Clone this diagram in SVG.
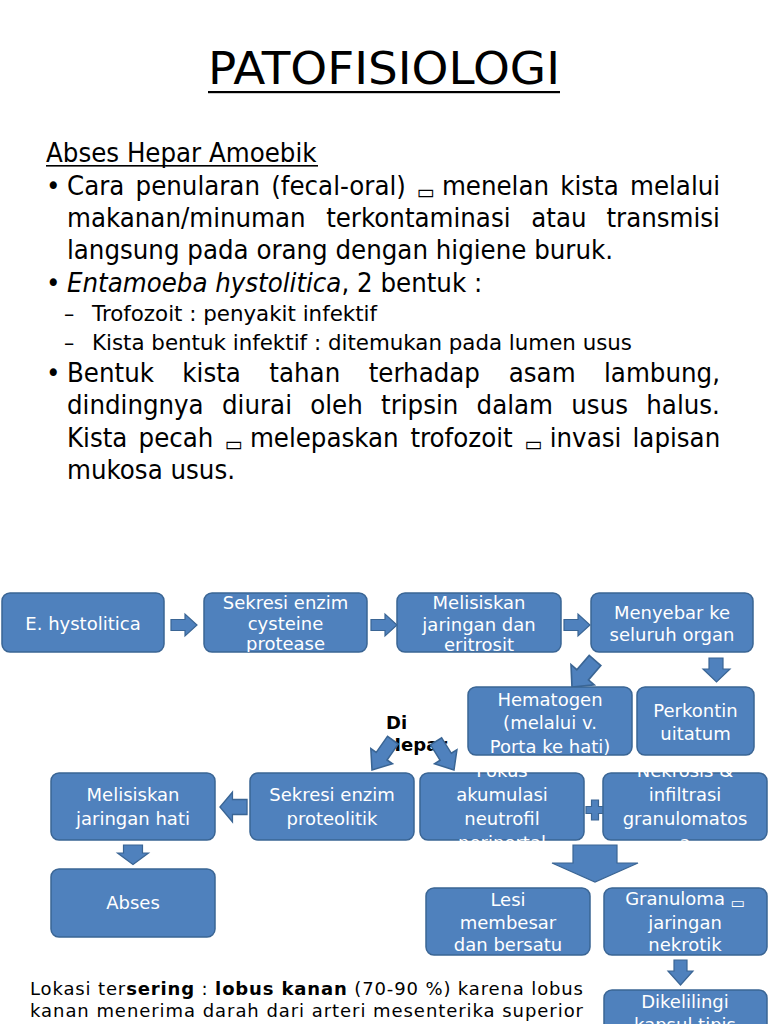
<svg xmlns="http://www.w3.org/2000/svg" xmlns:xlink="http://www.w3.org/1999/xlink" width="768" height="1024" viewBox="0 0 768 1024">
<style>
.body{font-family:"DejaVu Sans",sans-serif;font-size:27px;fill:#000}
.sub{font-family:"DejaVu Sans",sans-serif;font-size:20.5px;fill:#000}
.tofu{font-family:"DejaVu Sans",sans-serif;font-size:21px;fill:#000}
.btofu{font-family:"DejaVu Sans",sans-serif;font-size:15px}
.box{fill:#4F81BD;stroke:#3A6594;stroke-width:1.5}
.bt{font-family:"DejaVu Sans",sans-serif;font-size:18px;fill:#fff;text-anchor:middle}
.arr{fill:#4F81BD;stroke:#3A6594;stroke-width:1.2}
.lbl{font-family:"DejaVu Sans",sans-serif;font-size:18px;font-weight:bold;fill:#000}
.foot{font-family:"DejaVu Sans",sans-serif;font-size:18px;fill:#000}
</style>
<defs>
<path id="ar" d="M-26,-5.5 H-12 V-11 L0,0 L-12,11 V5.5 H-26 Z"/>
<clipPath id="cB"><rect x="204" y="590" width="163" height="62"/></clipPath>
<clipPath id="cF"><rect x="420" y="770" width="164" height="72"/></clipPath>
<clipPath id="cN"><rect x="603" y="770" width="165" height="75"/></clipPath>
<clipPath id="cC"><rect x="397" y="590" width="164" height="63"/></clipPath>
</defs>
<rect width="768" height="1024" fill="#fff"/>

<g id="title">
<text x="384" y="84" text-anchor="middle" font-family="DejaVu Sans, sans-serif" font-size="44" textLength="352" lengthAdjust="spacingAndGlyphs">PATOFISIOLOGI</text>
<rect x="208" y="91" width="352" height="2.2" fill="#000"/>
</g>

<g id="text">
<rect x="46" y="165" width="272" height="1.6" fill="#000"/>
<g transform="scale(0.91,1)">
<text class="body" x="50.55" y="162">Abses Hepar Amoebik</text>
<text class="body" x="50.55" y="195">•</text>
<text class="body" y="195"><tspan x="73.63">Cara</tspan><tspan x="149">penularan</tspan><tspan x="298.1">(fecal-oral)</tspan><tspan class="tofu" x="457.9" dy="4">▭</tspan><tspan x="485.6" dy="-4">menelan</tspan><tspan x="615.7">kista</tspan><tspan x="692.3">melalui</tspan></text>
<text class="body" y="227"><tspan x="73.63">makanan/minuman</tspan><tspan x="358.4">terkontaminasi</tspan><tspan x="583.8">atau</tspan><tspan x="666.4">transmisi</tspan></text>
<text class="body" x="73.63" y="259">langsung pada orang dengan higiene buruk.</text>
<text class="body" x="50.55" y="292">•</text>
<text class="body" x="73.63" y="292"><tspan font-style="italic">Entamoeba hystolitica</tspan>, 2 bentuk :</text>
<text class="body" x="50.55" y="382">•</text>
<text class="body" y="382"><tspan x="73.63">Bentuk</tspan><tspan x="200.4">kista</tspan><tspan x="296">tahan</tspan><tspan x="405.2">terhadap</tspan><tspan x="559.1">asam</tspan><tspan x="663.8">lambung,</tspan></text>
<text class="body" y="414"><tspan x="73.63">dindingnya</tspan><tspan x="244">diurai</tspan><tspan x="340.9">oleh</tspan><tspan x="418.7">tripsin</tspan><tspan x="523.7">dalam</tspan><tspan x="627.8">usus</tspan><tspan x="710.2">halus.</tspan></text>
<text class="body" y="447"><tspan x="73.63">Kista</tspan><tspan x="152.3">pecah</tspan><tspan class="tofu" x="246.9" dy="4">▭</tspan><tspan x="274.6" dy="-4">melepaskan</tspan><tspan x="451">trofozoit</tspan><tspan class="tofu" x="576.4" dy="4">▭</tspan><tspan x="604.1" dy="-4">invasi</tspan><tspan x="695.1">lapisan</tspan></text>
<text class="body" x="73.63" y="479">mukosa usus.</text>
</g>
<text class="sub" x="64" y="321" font-size="23">–</text>
<text class="sub" x="92" y="321" textLength="285" lengthAdjust="spacingAndGlyphs">Trofozoit : penyakit infektif</text>
<text class="sub" x="64" y="350" font-size="23">–</text>
<text class="sub" x="92" y="350" textLength="540" lengthAdjust="spacingAndGlyphs">Kista bentuk infektif : ditemukan pada lumen usus</text>
</g>

<g id="connectors">
<use href="#ar" class="arr" transform="translate(197,625)"/>
<use href="#ar" class="arr" transform="translate(397,625)"/>
<use href="#ar" class="arr" transform="translate(590,625)"/>
<use href="#ar" class="arr" transform="translate(572,687) rotate(131) scale(1.35,1.4)"/>
<path class="arr" d="M709,658 H723 V669 H730 L716.5,682 L703,669 H709 Z"/>
<use href="#ar" class="arr" transform="translate(220,807) rotate(180) scale(1.04,1.36)"/>
<path class="arr" d="M123.5,845 H142.5 V853 H148.5 L133,864.5 L117.5,853 H123.5 Z"/>
<path class="arr" d="M591.5,800 H598.5 V806.5 H604 V813.5 H598.5 V820 H591.5 V813.5 H586 V806.5 H591.5 Z"/>
<path class="arr" d="M573,845 H617 V863 H638 L595,882 L552,863 H573 Z"/>
<path class="arr" d="M674,960 H687 V971 H693 L680.5,985 L668,971 H674 Z"/>
</g>

<g id="label-di-hepar">
<text class="lbl" x="386" y="729">Di</text>
<text class="lbl" x="386" y="751">Hepar</text>
</g>
<g id="connectors-hepar">
<use href="#ar" class="arr" transform="translate(372,770) rotate(125) scale(1.4,1.2)"/>
<use href="#ar" class="arr" transform="translate(454,770) rotate(58) scale(1.3,1.2)"/>
</g>

<g id="n-ehisto"><rect class="box" x="2" y="593" width="162" height="59" rx="8"/><text class="bt" x="83" y="630">E. hystolitica</text></g>
<g id="n-sekresi-cys"><rect class="box" x="204" y="593" width="163" height="59" rx="8"/><g clip-path="url(#cB)"><text class="bt" x="285.5" y="609">Sekresi enzim</text><text class="bt" x="285.5" y="629.5">cysteine</text><text class="bt" x="285.5" y="650">protease</text></g></g>
<g id="n-melisiskan-eri"><rect class="box" x="397" y="593" width="164" height="59" rx="8"/><g clip-path="url(#cC)"><text class="bt" x="479" y="609">Melisiskan</text><text class="bt" x="479" y="631">jaringan dan</text><text class="bt" x="479" y="651">eritrosit</text></g></g>
<g id="n-menyebar"><rect class="box" x="591" y="593" width="162" height="59" rx="8"/><text class="bt" x="672" y="619">Menyebar ke</text><text class="bt" x="672" y="641">seluruh organ</text></g>
<g id="n-hematogen"><rect class="box" x="468" y="687" width="164" height="68" rx="8"/><text class="bt" x="550" y="706">Hematogen</text><text class="bt" x="550" y="729">(melalui v.</text><text class="bt" x="550" y="753">Porta ke hati)</text></g>
<g id="n-perkontin"><rect class="box" x="637" y="687" width="117" height="68" rx="8"/><text class="bt" x="695.5" y="717">Perkontin</text><text class="bt" x="695.5" y="740">uitatum</text></g>
<g id="n-melisiskan-hati"><rect class="box" x="51" y="773" width="164" height="67" rx="8"/><text class="bt" x="133" y="801">Melisiskan</text><text class="bt" x="133" y="825">jaringan hati</text></g>
<g id="n-sekresi-prot"><rect class="box" x="250" y="773" width="164" height="67" rx="8"/><text class="bt" x="332" y="801">Sekresi enzim</text><text class="bt" x="332" y="825">proteolitik</text></g>
<g id="n-fokus"><rect class="box" x="420" y="773" width="164" height="67" rx="8"/><g clip-path="url(#cF)"><text class="bt" x="502" y="777">Fokus</text><text class="bt" x="502" y="801">akumulasi</text><text class="bt" x="502" y="825">neutrofil</text><text class="bt" x="502" y="849">periportal</text></g></g>
<g id="n-nekrosis"><rect class="box" x="603" y="773" width="164" height="67" rx="8"/><g clip-path="url(#cN)"><text class="bt" x="685" y="777">Nekrosis &amp;</text><text class="bt" x="685" y="801">infiltrasi</text><text class="bt" x="685" y="825">granulomatos</text><text class="bt" x="685" y="849">a</text></g></g>
<g id="n-abses"><rect class="box" x="51" y="869" width="164" height="68" rx="8"/><text class="bt" x="133" y="909">Abses</text></g>
<g id="n-lesi"><rect class="box" x="426" y="888" width="164" height="67" rx="8"/><text class="bt" x="508" y="906">Lesi</text><text class="bt" x="508" y="929">membesar</text><text class="bt" x="508" y="951">dan bersatu</text></g>
<g id="n-granuloma"><rect class="box" x="604" y="888" width="163" height="67" rx="8"/><text class="bt" x="685" y="905">Granuloma <tspan class="btofu" dy="3">▭</tspan></text><text class="bt" x="685" y="929">jaringan</text><text class="bt" x="685" y="951">nekrotik</text></g>
<g id="n-dikelilingi"><rect class="box" x="604" y="990" width="163" height="50" rx="8"/><text class="bt" x="685" y="1008">Dikelilingi</text><text class="bt" x="685" y="1031">kapsul tipis</text></g>

<g id="footnote">
<text class="foot" x="30" y="995" textLength="553" lengthAdjust="spacing">Lokasi ter<tspan font-weight="bold">sering</tspan> : <tspan font-weight="bold">lobus kanan</tspan> (70-90 %) karena lobus</text>
<text class="foot" x="30" y="1017" textLength="553" lengthAdjust="spacing">kanan menerima darah dari arteri mesenterika superior</text>
</g>
</svg>
